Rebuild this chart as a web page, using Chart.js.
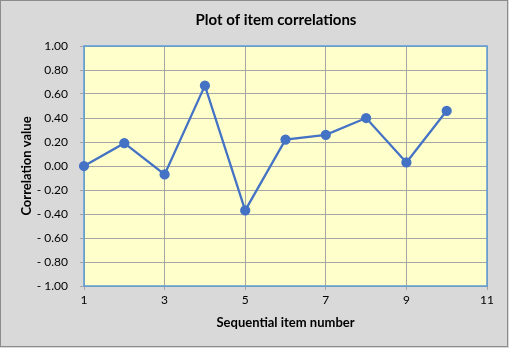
<!DOCTYPE html>
<html>
<head>
<meta charset="utf-8">
<script src="https://cdn.jsdelivr.net/npm/chart.js@4"></script>
<style>
  html, body { margin: 0; padding: 0; background: #d9d9d9; }
  #wrap { width: 509px; height: 348px; }
</style>
</head>
<body>
<div id="wrap"><canvas id="corrChart" width="509" height="348"></canvas></div>
<script>
// data
const itemNumbers = [1, 2, 3, 4, 5, 6, 7, 8, 9, 10];
const correlations = [0.00, 0.19, -0.07, 0.67, -0.37, 0.22, 0.26, 0.40, 0.03, 0.46];
const xTicks = [1, 3, 5, 7, 9, 11];
const yTicks = [-1, -0.8, -0.6, -0.4, -0.2, 0, 0.2, 0.4, 0.6, 0.8, 1];
const chartTitle = "Plot of item correlations";

const FONT = "Lato, 'Open Sans', sans-serif";

// excel style "- 0.20"
function fmtY(v) {
  const r = Math.round(v * 100) / 100;
  if (r < 0) return "- " + Math.abs(r).toFixed(2);
  return Math.abs(r).toFixed(2);
}

// background, outer frame, plot area, title
const frame = {
  id: "frame",
  beforeDraw(chart) {
    const { ctx, width, height, chartArea: a } = chart;
    ctx.save();
    ctx.fillStyle = "#d9d9d9";
    ctx.fillRect(0, 0, width, height);
    ctx.strokeStyle = "#8c8c8c";
    ctx.lineWidth = 1;
    ctx.strokeRect(0.5, 0.5, width - 2, height - 2);
    ctx.fillStyle = "#ffffcc";
    ctx.fillRect(a.left, a.top, a.right - a.left, a.bottom - a.top);
    ctx.restore();
  },
  beforeDatasetsDraw(chart) {
    const { ctx, chartArea: a } = chart;
    ctx.save();
    ctx.strokeStyle = "#5b9bd5";
    ctx.lineWidth = 1.5;
    ctx.strokeRect(a.left, a.top, a.right - a.left, a.bottom - a.top);
    ctx.restore();
  },
  afterDraw(chart) {
    const { ctx } = chart;
    ctx.save();
    ctx.fillStyle = "#000";
    ctx.font = "bold 15px " + FONT;
    ctx.textAlign = "center";
    ctx.textBaseline = "middle";
    ctx.fillText(chartTitle, 276, 20);
    ctx.restore();
  }
};

const ctx = document.getElementById("corrChart").getContext("2d");

new Chart(ctx, {
  type: "line",
  data: {
    datasets: [{
      data: itemNumbers.map((n, i) => ({ x: n, y: correlations[i] })),
      borderColor: "#4472c4",
      backgroundColor: "#4472c4",
      borderWidth: 2.25,
      pointRadius: 4,
      pointHoverRadius: 4,
      tension: 0,
      clip: false
    }]
  },
  options: {
    responsive: false,
    animation: false,
    layout: { padding: { left: 0, right: 22, top: 46, bottom: 0 } },
    plugins: {
      legend: { display: false },
      tooltip: { enabled: false },
      title: { display: false }
    },
    scales: {
      x: {
        type: "linear",
        min: 1,
        max: 11,
        afterBuildTicks(scale) {
          scale.ticks = xTicks.map(v => ({ value: v }));
        },
        afterFit(scale) { scale.height = 62; },
        ticks: {
          color: "#000",
          font: { family: FONT, size: 12 },
          padding: 3,
          maxRotation: 0,
          callback: v => String(v)
        },
        grid: { color: "#a6a6a6", lineWidth: 1, tickLength: 4, tickColor: "#a6a6a6" },
        border: { display: false },
        title: {
          display: true,
          text: "Sequential item number",
          color: "#000",
          font: { family: FONT, size: 13, weight: "bold" },
          padding: { top: 0, bottom: 17 }
        }
      },
      y: {
        min: -1,
        max: 1,
        afterBuildTicks(scale) {
          scale.ticks = yTicks.map(v => ({ value: v }));
        },
        afterFit(scale) { scale.width = 84; },
        ticks: {
          color: "#000",
          font: { family: FONT, size: 12 },
          padding: 12,
          callback: v => fmtY(v)
        },
        grid: { color: "#a6a6a6", lineWidth: 1, tickLength: 4, tickColor: "#a6a6a6" },
        border: { display: false },
        title: {
          display: true,
          text: "Correlation value",
          color: "#000",
          font: { family: FONT, size: 13, weight: "bold" },
          padding: { top: 19, bottom: 0 }
        }
      }
    }
  },
  plugins: [frame]
});
</script>
</body>
</html>
